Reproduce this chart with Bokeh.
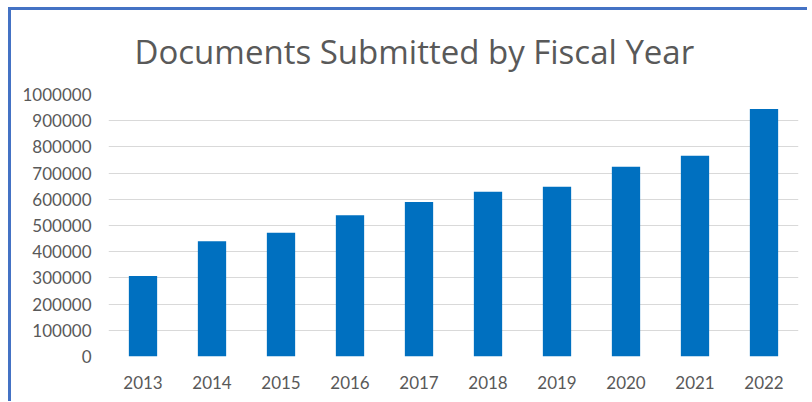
from bokeh.plotting import figure
from bokeh.models import Range1d, ColumnDataSource, NumeralTickFormatter, Title
from bokeh.embed import file_html
from bokeh.resources import INLINE

years = ["2013", "2014", "2015", "2016", "2017", "2018", "2019", "2020", "2021", "2022"]
documents = [307000, 440000, 472000, 539000, 590000, 629000, 648000, 724000, 766000, 945000]
y_ticks = [0, 100000, 200000, 300000, 400000, 500000, 600000, 700000, 800000, 900000, 1000000]
title_text = "Documents Submitted by Fiscal Year"

FONT = "Lato"
TEXT = "#595959"

source = ColumnDataSource(data=dict(year=years, documents=documents))

p = figure(
    x_range=years,
    y_range=Range1d(y_ticks[0], y_ticks[-1]),
    frame_width=690,
    frame_height=262,
    min_border_left=97,
    min_border_right=9,
    min_border_top=84,
    min_border_bottom=45,
    output_backend="svg",
    toolbar_location=None,
)
p.styles = {
    "border-left": "3px solid #4472C4",
    "border-top": "3px solid #4472C4",
    "margin-left": "8px",
    "margin-top": "7px",
}

p.vbar(x="year", top="documents", width=0.41, source=source,
       fill_color="#0070C0", line_color=None)

main_title = Title(
    text=title_text, text_font="Open Sans", text_font_size="33px",
    text_font_style="normal", text_color=TEXT, align="left", offset=26,
    vertical_align="top", standoff=37,
)
p.add_layout(main_title, "above")

p.outline_line_color = None
p.background_fill_color = "white"
p.border_fill_color = "white"

p.xgrid.grid_line_color = None
p.ygrid.ticker = y_ticks
p.ygrid.grid_line_color = "#d9d9d9"
p.ygrid.grid_line_width = 1

p.yaxis.ticker = y_ticks
p.yaxis.formatter = NumeralTickFormatter(format="0")
for ax in (p.xaxis[0], p.yaxis[0]):
    ax.axis_line_color = None
    ax.major_tick_line_color = None
    ax.minor_tick_line_color = None
    ax.major_tick_out = 0
    ax.major_tick_in = 0
    ax.major_label_text_font = FONT
    ax.major_label_text_font_size = "17px"
    ax.major_label_text_color = TEXT
p.yaxis.major_label_standoff = 17
p.xaxis.major_label_standoff = 19

open("out.html", "w").write(file_html(p, INLINE))
